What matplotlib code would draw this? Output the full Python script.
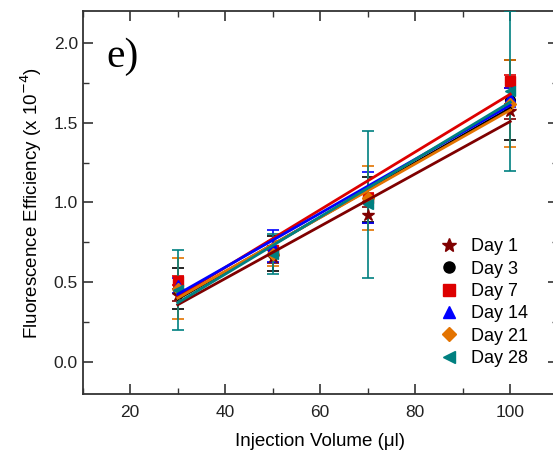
import numpy as np
import matplotlib
matplotlib.use("Agg")
import matplotlib.pyplot as plt
from matplotlib.ticker import MultipleLocator
from matplotlib.lines import Line2D

plt.rcParams['font.family'] = ['Liberation Sans', 'DejaVu Sans']

volume = [30, 50, 70, 100]
days = ['Day 1', 'Day 3', 'Day 7', 'Day 14', 'Day 21', 'Day 28']

# fluorescence efficiency (x 1e-4) and error per day
eff_day1 = [0.42, 0.66, 0.92, 1.57]
err_day1 = [0.04, 0.04, 0.05, 0.05]
eff_day3 = [0.46, 0.68, 1.02, 1.64]
err_day3 = [0.13, 0.11, 0.14, 0.25]
eff_day7 = [0.51, 0.70, 1.03, 1.76]
err_day7 = [0.03, 0.03, 0.03, 0.04]
eff_day14 = [0.48, 0.73, 1.03, 1.66]
err_day14 = [0.05, 0.10, 0.16, 0.06]
eff_day21 = [0.46, 0.68, 1.03, 1.62]
err_day21 = [0.19, 0.08, 0.20, 0.27]
eff_day28 = [0.45, 0.68, 0.99, 1.70]
err_day28 = [0.25, 0.125, 0.46, 0.50]

series = [
    (eff_day1, err_day1, '*', '#7f0000'),
    (eff_day3, err_day3, 'o', '#000000'),
    (eff_day7, err_day7, 's', '#dd0000'),
    (eff_day14, err_day14, '^', '#0000ff'),
    (eff_day21, err_day21, 'D', '#e37300'),
    (eff_day28, err_day28, '<', '#008080'),
]

fig = plt.figure(figsize=(5.53, 4.55), dpi=100)
ax = fig.add_axes([0.1496, 0.134, 0.859, 0.842])

x = np.array(volume)
handles = []
for label, (eff, err, marker, color) in zip(days, series):
    ms = 9 if marker == '*' else 7
    if marker == 'D':
        ms = 6
    ax.errorbar(x, eff, yerr=err, fmt=marker, color=color, ms=ms,
                ecolor=color, elinewidth=1.2, capsize=4, capthick=1.2,
                zorder=3)
    # linear fit for each day
    k, b = np.polyfit(x, eff, 1)
    ax.plot(x, k * x + b, '-', color=color, lw=2, zorder=4)
    handles.append(Line2D([], [], ls='none', marker=marker, color=color,
                          ms=ms + 1, label=label))

ax.set_xlim(10, 110)
ax.set_ylim(-0.2, 2.2)
ax.xaxis.set_major_locator(MultipleLocator(20))
ax.xaxis.set_minor_locator(MultipleLocator(10))
ax.yaxis.set_major_locator(MultipleLocator(0.5))
ax.yaxis.set_minor_locator(MultipleLocator(0.25))
ax.tick_params(which='both', direction='in', top=True, right=True,
               labelsize=12.5, colors='#333333', labelcolor='#222222')
ax.tick_params(which='major', length=7, width=1.2)
ax.tick_params(which='minor', length=4, width=1)
ax.tick_params(axis='x', pad=8)
for s in ax.spines.values():
    s.set_linewidth(1.3)
    s.set_color('#333333')

ax.set_xlabel('Injection Volume (μl)', fontsize=13.5, labelpad=9)
ax.set_ylabel('Fluorescence Efficiency (x 10$^{-4}$)', fontsize=13.5, labelpad=7)

ax.text(0.05, 0.93, 'e)', transform=ax.transAxes, fontsize=30,
        family='Liberation Serif', va='top', ha='left')

ax.legend(handles=handles, loc='lower left', bbox_to_anchor=(0.742, 0.07),
          frameon=False, fontsize=13, borderpad=0, borderaxespad=0,
          handletextpad=0.5, labelspacing=0.3, handlelength=1.5)

fig.savefig('out.png', dpi=100)
